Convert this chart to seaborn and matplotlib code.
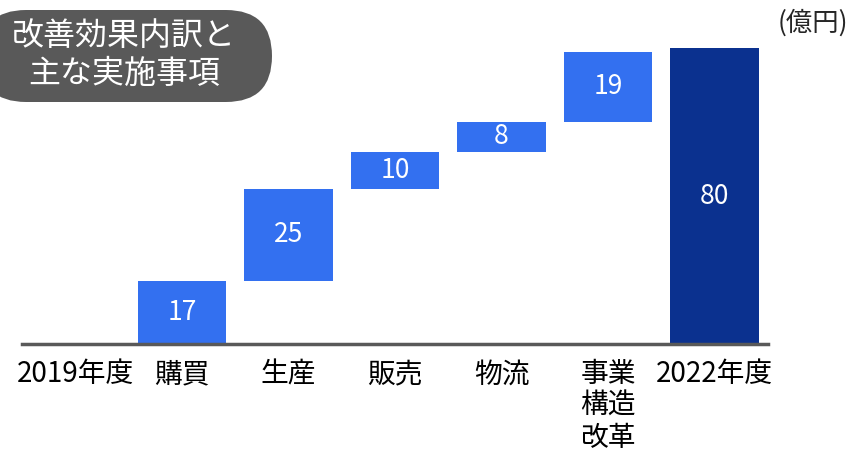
import matplotlib
matplotlib.use("Agg")
import pandas as pd
import seaborn as sns
import matplotlib.pyplot as plt
from matplotlib.patches import FancyBboxPatch
from matplotlib.transforms import IdentityTransform

categories = ["2019年度", "購買", "生産", "販売", "物流", "事業\n構造\n改革", "2022年度"]
values = [0, 17, 25, 10, 8, 19, 80]
kinds = ["total", "step", "step", "step", "step", "step", "total"]
title_lines = ["改善効果内訳と", "主な実施事項"]
unit_label = "(億円)"

df = pd.DataFrame({"cat": categories, "value": values, "kind": kinds})
steps = df["kind"] == "step"
# each step starts where the previous ones ended
df["base"] = 0
df.loc[steps, "base"] = df.loc[steps, "value"].cumsum() - df.loc[steps, "value"]

sns.set_style("white")
plt.rcParams["font.family"] = ["Noto Sans CJK JP", "DejaVu Sans"]

fig = plt.figure(figsize=(8.5, 4.55), dpi=100)
ax = fig.add_axes([0, 111 / 455, 1, 344 / 455])

step_df = df[steps]
sns.barplot(data=step_df, x="cat", y="value", order=categories, color="#3370F0",
            saturation=1, width=0.83, errorbar=None, linewidth=0,
            bottom=step_df["base"].values, ax=ax)
tot_df = df[~steps]
sns.barplot(data=tot_df, x="cat", y="value", order=categories, color="#0B318F",
            saturation=1, width=0.83, errorbar=None, linewidth=0, ax=ax)

for i, row in df.iterrows():
    if row["value"] > 0:
        ax.text(i, row["base"] + row["value"] / 2, str(row["value"]), color="white",
                ha="center", va="center", fontsize=19)

ax.set_xlim(-0.709, 7.272)
ax.set_ylim(0, 93)
ax.set_xlabel("")
ax.set_ylabel("")
ax.set_yticks([])
for s in ["top", "left", "right"]:
    ax.spines[s].set_visible(False)
ax.spines["bottom"].set_color("#595959")
ax.spines["bottom"].set_linewidth(2.5)
ax.spines["bottom"].set_bounds(-0.5, 6.5)
ax.tick_params(axis="x", length=0, pad=11, labelsize=20, labelcolor="black")
for lab in ax.get_xticklabels():
    lab.set_linespacing(1.08)

# pill shaped title box (pixel coords)
pill = FancyBboxPatch((-20, 353), 292, 92, boxstyle="round,pad=0,rounding_size=46",
                      transform=IdentityTransform(), facecolor="#595959", edgecolor="none")
fig.add_artist(pill)
fig.text(124 / 850, 1 - 36 / 455, title_lines[0], color="white", fontsize=23,
         ha="center", va="center")
fig.text(124 / 850, 1 - 74 / 455, title_lines[1], color="white", fontsize=23,
         ha="center", va="center")
fig.text(848 / 850, 1 - 23 / 455, unit_label, fontsize=19, ha="right", va="center")

fig.savefig("out.png", dpi=100)
